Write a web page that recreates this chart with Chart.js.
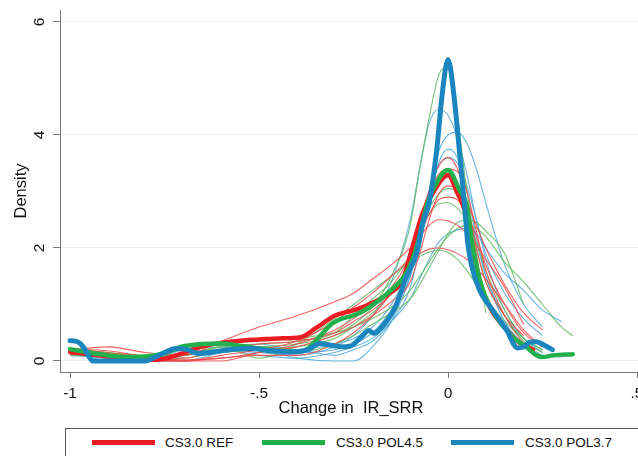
<!DOCTYPE html>
<html><head><meta charset="utf-8">
<script src="https://cdn.jsdelivr.net/npm/chart.js@4"></script>
<style>
html,body{margin:0;padding:0;background:#fff;overflow:hidden;}
#wrap{position:relative;width:638px;height:456px;overflow:hidden;}
#box{position:absolute;left:0;top:0;width:650px;height:456px;}
#legend{position:absolute;left:65px;top:428px;width:580px;height:40px;border:1px solid #555;box-sizing:border-box;background:#fff;font-family:"Liberation Sans",Arial,sans-serif;font-size:13.5px;color:#111;}
.sw{position:absolute;top:11px;width:63px;height:5px;}
.tx{position:absolute;top:6px;line-height:16px;white-space:nowrap;}
</style></head>
<body>
<div id="wrap">
  <div id="box"><canvas id="c" width="650" height="456"></canvas></div>
  <div id="legend">
    <span class="sw" style="left:26px;background:#ec1c24"></span><span class="tx" style="left:99px">CS3.0 REF</span>
    <span class="sw" style="left:196px;background:#22b04c"></span><span class="tx" style="left:270px">CS3.0 POL4.5</span>
    <span class="sw" style="left:385px;background:#1b86bd"></span><span class="tx" style="left:459px">CS3.0 POL3.7</span>
  </div>
</div>
<script>
// ---- data ----
const X_TICKS = [-1, -0.5, 0, 0.5];
const X_TICK_LABELS = ['-1', '-.5', '0', '.5'];
const Y_TICKS = [0, 2, 4, 6];
const Y_TICK_LABELS = ['0', '2', '4', '6'];
const SERIES_NAMES = ['CS3.0 REF', 'CS3.0 POL4.5', 'CS3.0 POL3.7'];

const RED_X = [-1,-0.95,-0.9,-0.85,-0.8,-0.75,-0.7,-0.65,-0.6,-0.55,-0.5,-0.45,-0.39,-0.35,-0.3,-0.26,-0.234,-0.2,-0.155,-0.12,-0.094,-0.067,-0.035,0,0.025,0.044,0.065,0.083,0.11,0.155,0.19,0.225];
const RED_Y = [0.16,0.12,0.08,0.04,0.02,0.04,0.14,0.26,0.32,0.36,0.38,0.4,0.42,0.58,0.8,0.88,0.93,1.03,1.2,1.43,2.02,2.62,3.03,3.29,2.97,2.67,2.02,1.43,0.96,0.55,0.32,0.2];

const GREEN_X = [-1,-0.95,-0.9,-0.85,-0.8,-0.75,-0.7,-0.65,-0.6,-0.55,-0.5,-0.45,-0.4,-0.37,-0.34,-0.305,-0.234,-0.2,-0.15,-0.11,-0.083,-0.057,-0.04,0,0.03,0.05,0.065,0.092,0.128,0.17,0.207,0.234,0.25,0.28,0.33];
const GREEN_Y = [0.21,0.15,0.1,0.07,0.08,0.14,0.26,0.3,0.31,0.27,0.22,0.18,0.16,0.22,0.43,0.67,0.85,0.99,1.26,1.56,2.02,2.73,3.03,3.38,3.03,2.73,2.02,1.26,0.78,0.43,0.25,0.1,0.07,0.1,0.12];

const BLUE_X = [-1,-0.98,-0.965,-0.95,-0.94,-0.8,-0.78,-0.75,-0.72,-0.69,-0.66,-0.63,-0.58,-0.52,-0.47,-0.42,-0.37,-0.34,-0.31,-0.28,-0.26,-0.23,-0.21,-0.195,-0.175,-0.14,-0.11,-0.083,-0.067,-0.05,-0.03,-0.017,-0.006,0,0.006,0.017,0.03,0.044,0.052,0.062,0.083,0.118,0.155,0.184,0.2,0.215,0.234,0.255,0.276];
const BLUE_Y = [0.36,0.34,0.25,0.08,0.0,0.0,0.05,0.15,0.22,0.2,0.13,0.15,0.2,0.22,0.18,0.16,0.2,0.31,0.28,0.25,0.26,0.42,0.54,0.49,0.6,0.95,1.49,1.91,2.44,2.8,3.73,4.62,5.2,5.33,5.2,4.62,3.73,2.73,2.1,1.7,1.26,0.9,0.55,0.23,0.25,0.33,0.34,0.28,0.2];

// thin (individual run) curves share one x grid
const THIN_X = [-1,-0.9,-0.8,-0.7,-0.6,-0.5,-0.4,-0.3,-0.25,-0.2,-0.15,-0.1,-0.075,-0.05,-0.025,0,0.025,0.05,0.075,0.1,0.15,0.2,0.25,0.3,0.33];
const RED_THIN_1 = [0.22,0.18,0.08,0.05,0.2,0.3,0.35,0.5,0.7,0.9,1.2,1.8,2.4,3.0,3.45,3.6,3.4,2.8,2.0,1.4,0.8,0.45,null,null,null];
const RED_THIN_2 = [0.2,0.25,0.15,0.1,0.35,0.6,0.8,1.05,1.2,1.45,1.7,2.0,2.2,2.4,2.5,2.48,2.4,2.25,2.05,1.8,1.3,0.65,null,null,null];
const RED_THIN_3 = [0.15,0.1,0.02,0.0,0.1,0.2,0.35,0.7,0.95,1.2,1.5,1.8,1.9,1.98,2.0,1.97,1.9,1.8,1.65,1.45,1.0,0.55,0.25,null,null];
const RED_THIN_4 = [0.18,0.12,0.05,0.02,0.05,0.15,0.3,0.55,0.75,1.0,1.3,1.9,2.5,3.0,3.3,3.4,3.35,3.0,2.3,1.6,0.8,0.3,null,null,null];
const RED_THIN_5 = [0.12,0.1,0.0,0.0,0.05,0.1,0.1,0.3,0.5,0.8,1.2,1.7,2.2,2.6,2.85,2.9,2.85,2.6,2.2,1.7,1.0,0.5,0.25,null,null];
const RED_THIN_6 = [0.2,0.15,0.05,0.0,0.0,0.15,0.25,0.45,0.6,0.8,1.05,1.4,1.9,2.5,2.95,3.1,3.05,2.8,2.4,2.0,1.35,0.85,0.55,null,null];
const GREEN_THIN_1 = [0.15,0.1,0.05,0.1,0.2,0.25,0.3,0.45,0.65,0.95,1.5,2.4,3.4,4.3,5.05,5.2,4.3,3.0,2.0,1.4,0.8,0.35,0.15,null,null];
const GREEN_THIN_2 = [0.12,0.1,0.05,0.15,0.3,0.35,0.4,0.5,0.6,0.75,0.95,1.25,1.5,1.75,2.0,2.2,2.35,2.4,2.35,2.2,1.75,1.4,1.0,0.6,0.45];
const GREEN_THIN_3 = [0.2,0.15,0.05,0.1,0.25,0.3,0.35,0.5,0.8,1.1,1.4,1.9,2.3,2.6,2.78,2.8,2.7,2.5,2.1,1.6,0.9,0.4,0.2,null,null];
const GREEN_THIN_4 = [0.15,0.1,0.05,0.1,0.25,0.05,0.3,0.75,1.0,1.25,1.5,1.75,1.85,1.93,1.96,1.92,1.8,1.6,1.35,1.1,0.7,0.4,0.2,null,null];
const GREEN_THIN_5 = [0.1,0.08,0.02,0.05,0.15,0.2,0.25,0.4,0.6,0.85,1.2,1.8,2.3,2.7,2.95,3.05,3.0,2.6,1.9,0.85,null,null,null,null,null];
const GREEN_THIN_6 = [0.2,0.15,0.1,0.2,0.3,0.25,0.15,0.3,0.45,0.65,0.85,1.1,1.35,1.65,1.95,2.25,2.45,2.5,2.45,2.3,1.9,1.0,null,null,null];
const BLUE_THIN_1 = [0.2,0.0,0.0,0.15,0.2,0.15,0.1,0.25,0.45,0.8,1.4,2.5,3.4,4.2,4.45,4.35,3.95,3.3,2.5,1.8,0.9,0.4,0.15,null,null];
const BLUE_THIN_2 = [0.15,0.05,0.0,0.1,0.2,0.2,0.15,0.2,0.3,0.5,0.9,1.5,2.2,3.0,3.7,4.0,4.05,3.85,3.4,2.8,1.7,1.0,0.6,null,null];
const BLUE_THIN_3 = [0.2,0.1,0.0,0.0,0.15,0.25,0.2,0.1,0.2,0.35,0.7,1.3,2.0,2.8,3.5,3.75,3.6,3.0,2.2,1.5,0.8,0.4,0.2,null,null];
const BLUE_THIN_4 = [0.1,0.05,0.0,0.2,0.25,0.3,0.2,0.3,0.4,0.6,1.0,1.7,2.4,3.0,3.45,3.6,3.5,3.1,2.5,1.9,1.2,0.75,0.45,null,null];
const BLUE_THIN_5 = [0.2,0.1,0.05,0.15,0.2,0.1,0.05,0.15,0.25,0.4,0.7,1.1,1.45,1.8,2.1,2.25,2.32,2.35,2.25,2.0,1.55,1.25,0.9,0.7,null];
const BLUE_THIN_6 = [0.15,0.05,0.0,0.1,0.15,0.2,0.05,0.0,0.0,0.25,0.7,1.5,2.2,2.8,3.15,3.25,3.1,2.7,2.1,1.5,0.7,0.3,0.1,null,null];

// ---- build ----
function pts(xs, ys) {
  const out = [];
  for (let i = 0; i < xs.length; i++) if (ys[i] !== null) out.push({x: xs[i], y: ys[i]});
  return out;
}
const COL = {
  red: '#ec1c24', green: '#22b04c', blue: '#1b86bd',
  redThin: 'rgba(238,70,70,0.85)', greenThin: 'rgba(95,185,95,0.85)', blueThin: 'rgba(80,168,215,0.85)'
};
function thick(label, xs, ys, color, order, w) {
  return {label, data: pts(xs, ys), borderColor: color, backgroundColor: color, borderWidth: w,
    pointRadius: 0, cubicInterpolationMode: 'monotone', order, borderJoinStyle: 'round', borderCapStyle: 'round'};
}
function thin(ys, color) {
  return {label: '', data: pts(THIN_X, ys), borderColor: color, borderWidth: 1.1, pointRadius: 0,
    cubicInterpolationMode: 'monotone', order: 5};
}
const datasets = [
  thick(SERIES_NAMES[2], BLUE_X, BLUE_Y, COL.blue, 0, 5),
  thick(SERIES_NAMES[1], GREEN_X, GREEN_Y, COL.green, 1, 4.5),
  thick(SERIES_NAMES[0], RED_X, RED_Y, COL.red, 2, 4.5),
];
[RED_THIN_1, RED_THIN_2, RED_THIN_3, RED_THIN_4, RED_THIN_5, RED_THIN_6].forEach(a => datasets.push(thin(a, COL.redThin)));
[GREEN_THIN_1, GREEN_THIN_2, GREEN_THIN_3, GREEN_THIN_4, GREEN_THIN_5, GREEN_THIN_6].forEach(a => datasets.push(thin(a, COL.greenThin)));
[BLUE_THIN_1, BLUE_THIN_2, BLUE_THIN_3, BLUE_THIN_4, BLUE_THIN_5, BLUE_THIN_6].forEach(a => datasets.push(thin(a, COL.blueThin)));

const FONT = '"Liberation Sans", Arial, sans-serif';
new Chart(document.getElementById('c'), {
  type: 'line',
  data: {datasets},
  options: {
    responsive: false, animation: false, devicePixelRatio: 1,
    layout: {padding: {top: 10, right: 8, left: 0, bottom: 0}},
    plugins: {legend: {display: false}, tooltip: {enabled: false}},
    scales: {
      x: {
        type: 'linear', min: -1.0265, max: 0.5132,
        afterBuildTicks: s => { s.ticks = X_TICKS.map(v => ({value: v})); },
        afterFit: s => { s.height = 84; s.paddingLeft = 0; s.paddingRight = 0; },
        ticks: {callback: (v) => X_TICK_LABELS[X_TICKS.indexOf(v)], font: {family: FONT, size: 15.5}, color: '#111', padding: 6, maxRotation: 0, autoSkip: false},
        grid: {drawOnChartArea: false, tickLength: 6, tickColor: '#777', tickWidth: 1},
        border: {display: true, color: '#777', width: 1},
        title: {display: true, text: 'Change in  IR_SRR', font: {family: FONT, size: 16.5}, color: '#111', padding: {top: 0, bottom: 38}}
      },
      y: {
        type: 'linear', min: -0.195, max: 6.212,
        afterBuildTicks: s => { s.ticks = Y_TICKS.map(v => ({value: v})); },
        afterFit: s => { s.width = 60; s.paddingTop = 0; s.paddingBottom = 0; },
        ticks: {callback: (v) => Y_TICK_LABELS[Y_TICKS.indexOf(v)], font: {family: FONT, size: 15.5}, color: '#111', padding: 9, minRotation: 90, maxRotation: 90, crossAlign: 'center', autoSkip: false},
        grid: {color: '#e8eff2', lineWidth: 1, tickLength: 7, tickColor: '#777'},
        border: {display: true, color: '#777', width: 1},
        title: {display: true, text: 'Density', font: {family: FONT, size: 16.5}, color: '#111', padding: {top: 12, bottom: 0}}
      }
    }
  }
});
</script>
</body></html>
